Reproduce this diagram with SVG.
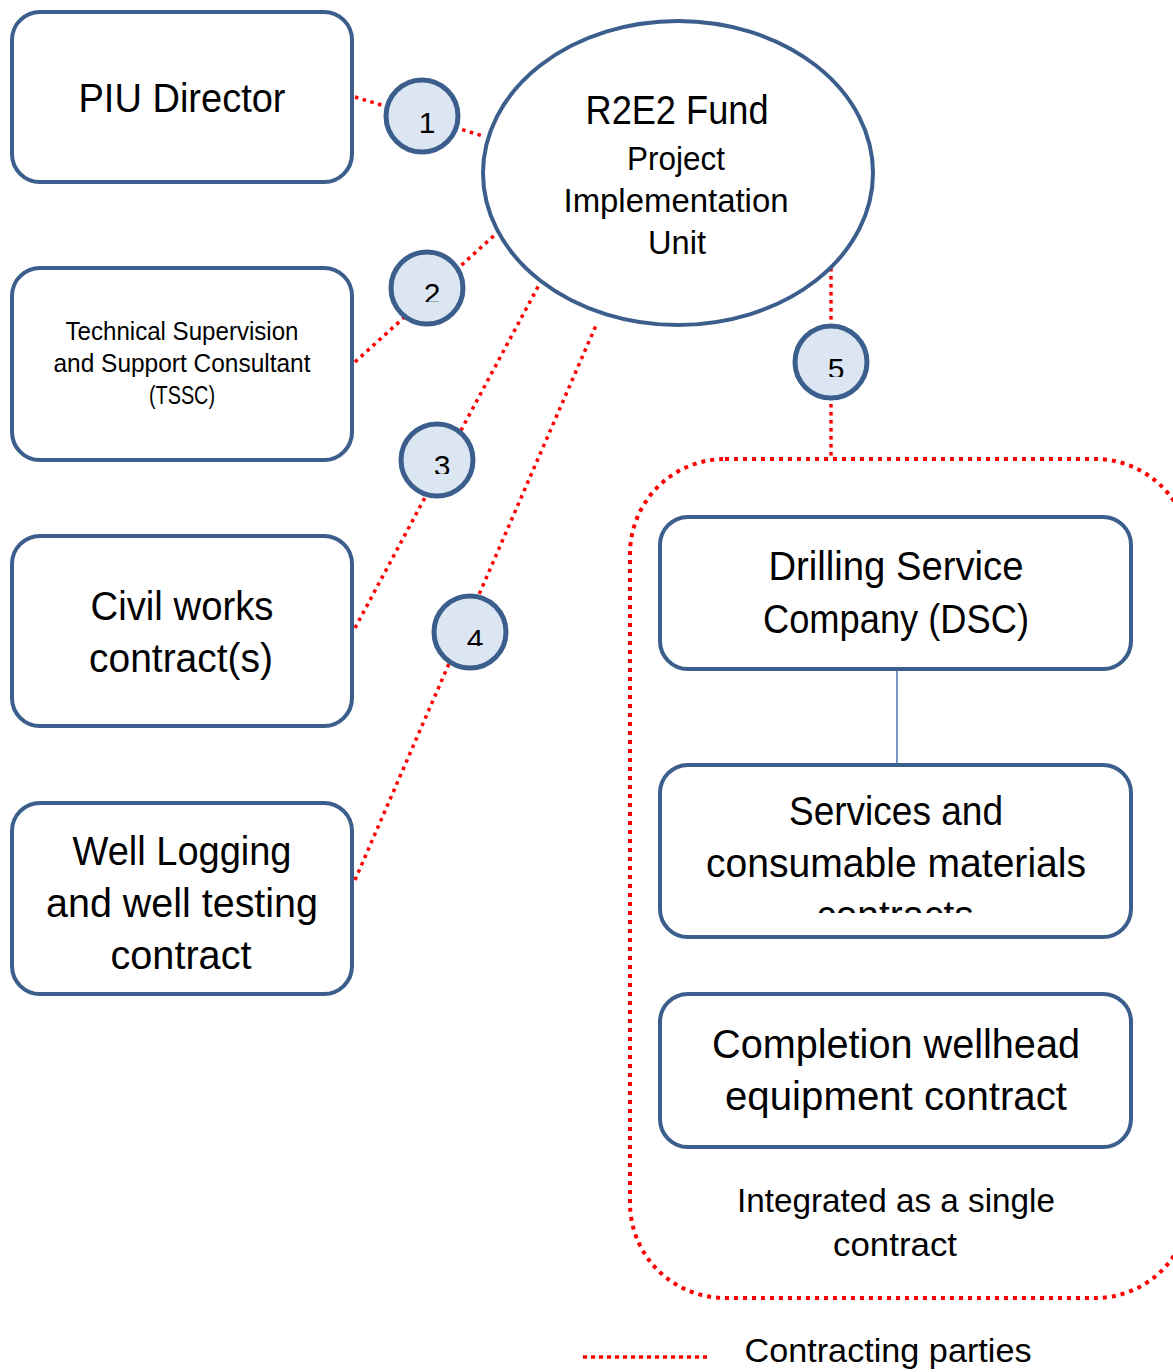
<svg xmlns="http://www.w3.org/2000/svg" width="1173" height="1372" viewBox="0 0 1173 1372">
<style>
.box{fill:#fff;stroke:#3B5E8C;stroke-width:4}
.num{fill:#DCE6F2;stroke:#3B5E8C;stroke-width:5}
.dot{fill:none;stroke:#FF0000;stroke-width:3.5;stroke-dasharray:3.5 4.5}
.t{font-family:"Liberation Sans",Arial,sans-serif;fill:#000;text-anchor:middle}
.big{font-size:40px}
.mid{font-size:34px}
.sm{font-size:25px}
.n{font-size:30px}
</style>
<defs>
<clipPath id="c2"><rect x="400" y="250" width="60" height="52"/></clipPath>
<clipPath id="c3"><rect x="400" y="420" width="80" height="54"/></clipPath>
<clipPath id="c4"><rect x="430" y="595" width="80" height="51"/></clipPath>
<clipPath id="c5"><rect x="790" y="325" width="80" height="52"/></clipPath>
<clipPath id="cc"><rect x="660" y="880" width="480" height="33"/></clipPath>
</defs>
<g id="connectors">
<line class="dot" x1="355" y1="97" x2="483" y2="136"/>
<line class="dot" x1="355" y1="362" x2="498" y2="232"/>
<line class="dot" x1="355" y1="628" x2="540" y2="283"/>
<line class="dot" x1="355" y1="880" x2="597" y2="323"/>
<line class="dot" x1="831" y1="268" x2="831" y2="459"/>
<line x1="897" y1="669" x2="897" y2="765" stroke="#4A78B0" stroke-width="1.5"/>
</g>
<g id="container">
<rect x="630" y="459" width="560" height="839" rx="95" fill="none" stroke="#FF0000" stroke-width="4" stroke-dasharray="4 5"/>
</g>
<g id="piu">
<rect class="box" x="12" y="12" width="340" height="170" rx="28"/>
<text class="t big" x="182" y="112" textLength="207" lengthAdjust="spacingAndGlyphs">PIU Director</text>
</g>
<g id="tssc">
<rect class="box" x="12" y="268" width="340" height="192" rx="28"/>
<text class="t sm" x="182" y="340" textLength="233" lengthAdjust="spacingAndGlyphs">Technical Supervision</text>
<text class="t sm" x="182" y="372" textLength="257" lengthAdjust="spacingAndGlyphs">and Support Consultant</text>
<text class="t sm" x="182" y="404" textLength="66" lengthAdjust="spacingAndGlyphs">(TSSC)</text>
</g>
<g id="civil">
<rect class="box" x="12" y="536" width="340" height="190" rx="28"/>
<text class="t big" x="182" y="620" textLength="183" lengthAdjust="spacingAndGlyphs">Civil works</text>
<text class="t big" x="181" y="672" textLength="184" lengthAdjust="spacingAndGlyphs">contract(s)</text>
</g>
<g id="welllog">
<rect class="box" x="12" y="803" width="340" height="191" rx="28"/>
<text class="t big" x="182" y="865" textLength="219" lengthAdjust="spacingAndGlyphs">Well Logging</text>
<text class="t big" x="182" y="917" textLength="272" lengthAdjust="spacingAndGlyphs">and well testing</text>
<text class="t big" x="181" y="969" textLength="141" lengthAdjust="spacingAndGlyphs">contract</text>
</g>
<g id="r2e2">
<ellipse cx="678" cy="173" rx="195" ry="152" fill="#fff" stroke="#3B5E8C" stroke-width="4"/>
<text class="t big" x="677" y="124" textLength="183" lengthAdjust="spacingAndGlyphs">R2E2 Fund</text>
<text class="t mid" x="676" y="170" textLength="98" lengthAdjust="spacingAndGlyphs">Project</text>
<text class="t mid" x="676" y="212" textLength="225" lengthAdjust="spacingAndGlyphs">Implementation</text>
<text class="t mid" x="677" y="254" textLength="58" lengthAdjust="spacingAndGlyphs">Unit</text>
</g>
<g id="n1"><circle class="num" cx="422" cy="116" r="36"/><text class="t n" x="427" y="133">1</text></g>
<g id="n2"><circle class="num" cx="427" cy="288" r="36"/><text class="t n" x="432" y="304" clip-path="url(#c2)">2</text></g>
<g id="n3"><circle class="num" cx="437" cy="460" r="36"/><text class="t n" x="442" y="476" clip-path="url(#c3)">3</text></g>
<g id="n4"><circle class="num" cx="470" cy="632" r="36"/><text class="t n" x="475" y="650" clip-path="url(#c4)">4</text></g>
<g id="n5"><circle class="num" cx="831" cy="362" r="36"/><text class="t n" x="836" y="379" clip-path="url(#c5)">5</text></g>
<g id="dsc">
<rect class="box" x="660" y="517" width="471" height="152" rx="28"/>
<text class="t big" x="896" y="580" textLength="255" lengthAdjust="spacingAndGlyphs">Drilling Service</text>
<text class="t big" x="896" y="633" textLength="266" lengthAdjust="spacingAndGlyphs">Company (DSC)</text>
</g>
<g id="services">
<rect class="box" x="660" y="765" width="471" height="172" rx="28"/>
<text class="t big" x="896" y="825" textLength="214" lengthAdjust="spacingAndGlyphs">Services and</text>
<text class="t big" x="896" y="877" textLength="380" lengthAdjust="spacingAndGlyphs">consumable materials</text>
<text class="t big" x="895" y="929" textLength="157" lengthAdjust="spacingAndGlyphs" clip-path="url(#cc)">contracts</text>
</g>
<g id="completion">
<rect class="box" x="660" y="994" width="471" height="153" rx="28"/>
<text class="t big" x="896" y="1058" textLength="368" lengthAdjust="spacingAndGlyphs">Completion wellhead</text>
<text class="t big" x="896" y="1110" textLength="342" lengthAdjust="spacingAndGlyphs">equipment contract</text>
</g>
<g id="note">
<text class="t mid" x="896" y="1212" textLength="318" lengthAdjust="spacingAndGlyphs">Integrated as a single</text>
<text class="t mid" x="895" y="1256" textLength="124" lengthAdjust="spacingAndGlyphs">contract</text>
</g>
<g id="legend">
<line x1="583" y1="1357" x2="710" y2="1357" stroke="#FF0000" stroke-width="3.5" stroke-dasharray="4 4"/>
<text class="t mid" x="888" y="1362" textLength="287" lengthAdjust="spacingAndGlyphs">Contracting parties</text>
</g>
</svg>
